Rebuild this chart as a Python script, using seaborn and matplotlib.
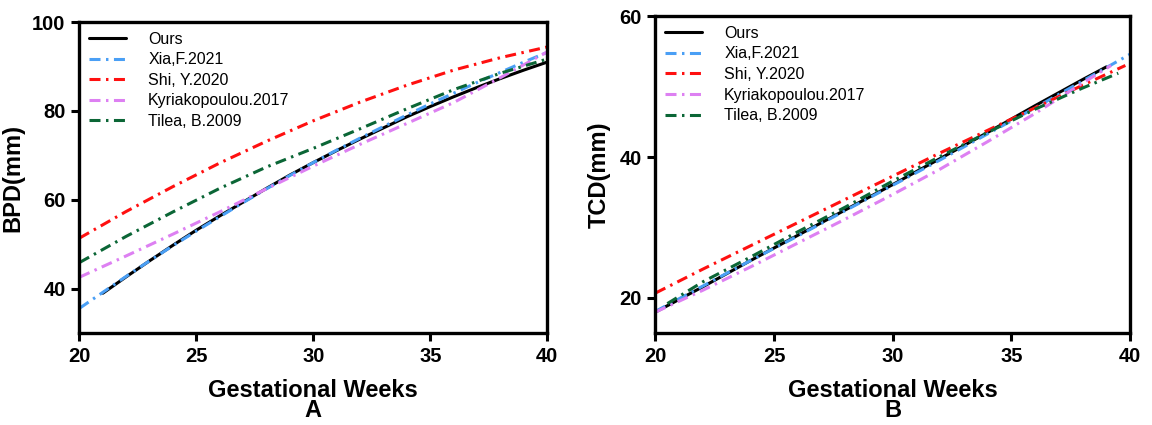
import matplotlib
matplotlib.use("Agg")
import matplotlib.pyplot as plt
import seaborn as sns

# BPD panel (A)
bpd_ours_wk = [21, 22, 23, 24, 25, 26, 27, 28, 29, 30, 31, 32, 33, 34, 35, 36, 37, 38, 39, 40]
bpd_ours = [39.0, 42.7, 46.3, 49.8, 53.2, 56.4, 59.5, 62.6, 65.6, 68.4, 71.1, 73.7, 76.2, 78.7, 81.0, 83.2, 85.3, 87.3, 89.2, 91.0]
bpd_xia_wk = [20, 21, 22, 23, 24, 25, 26, 27, 28, 29, 30, 31, 32, 33, 34, 35, 36, 37, 38, 39, 40]
bpd_xia = [35.6, 39.2, 42.8, 46.3, 49.7, 53.0, 56.2, 59.4, 62.5, 65.5, 68.4, 71.2, 73.9, 76.5, 79.1, 81.6, 84.0, 86.4, 88.7, 91.0, 93.2]
bpd_wk = [20, 22, 24, 26, 28, 30, 32, 34, 36, 38, 40]
bpd_shi = [51.4, 57.4, 63.0, 68.3, 73.2, 77.8, 82.0, 85.8, 89.2, 92.0, 94.4]
bpd_kyr = [42.6, 47.4, 52.3, 57.3, 62.5, 67.6, 72.5, 77.2, 81.9, 87.5, 93.3]
bpd_til = [45.9, 51.8, 57.3, 62.6, 67.4, 71.6, 76.0, 80.5, 84.8, 88.5, 91.7]

# TCD panel (B)
tcd_ours_wk = [20, 22, 24, 26, 28, 30, 32, 34, 36, 38, 39]
tcd_ours = [18.0, 21.6, 25.3, 28.9, 32.5, 36.1, 39.8, 43.5, 47.3, 51.0, 52.8]
tcd_xia_wk = [20, 22, 24, 26, 28, 30, 32, 34, 36, 38, 40]
tcd_xia = [18.1, 21.7, 25.3, 28.8, 32.4, 36.0, 39.6, 43.3, 47.0, 50.8, 54.6]
tcd_shi_wk = [20, 22, 24, 26, 28, 30, 32, 34, 36, 38, 39.8]
tcd_shi = [20.7, 24.1, 27.4, 30.7, 34.0, 37.3, 40.6, 43.8, 47.0, 50.2, 53.0]
tcd_kyr_wk = [20, 22, 24, 26, 28, 30, 32, 34, 36, 38, 39.2]
tcd_kyr = [18.0, 21.1, 24.4, 27.8, 31.2, 34.7, 38.3, 42.2, 46.2, 50.5, 53.0]
tcd_til_wk = [20.5, 22, 24, 26, 28, 30, 32, 34, 36, 38, 39.5]
tcd_til = [19.2, 22.3, 25.8, 29.4, 32.9, 36.6, 40.1, 43.5, 46.8, 49.8, 51.9]

names = ["Ours", "Xia,F.2021", "Shi, Y.2020", "Kyriakopoulou.2017", "Tilea, B.2009"]
colors = ["black", "#4a9ff5", "#ff1010", "#dd80f2", "#0b6636"]
dashdot = (0, (3.6, 1.8, 0.8, 1.8))
styles = ["-", dashdot, dashdot, dashdot, dashdot]

sns.set_style("white")
plt.rcParams["font.family"] = ["Liberation Sans", "DejaVu Sans"]
plt.rcParams["text.color"] = "black"
plt.rcParams["axes.labelcolor"] = "black"
plt.rcParams["xtick.color"] = "black"
plt.rcParams["ytick.color"] = "black"

fig = plt.figure(figsize=(11.52, 4.25), dpi=100)
ax1 = fig.add_axes([0.069, 0.216, 0.406, 0.732])
ax2 = fig.add_axes([0.569, 0.216, 0.412, 0.746])

panels = [
    (ax1, [(bpd_ours_wk, bpd_ours), (bpd_xia_wk, bpd_xia), (bpd_wk, bpd_shi),
           (bpd_wk, bpd_kyr), (bpd_wk, bpd_til)], "BPD(mm)", (30, 100), [40, 60, 80, 100], "A"),
    (ax2, [(tcd_ours_wk, tcd_ours), (tcd_xia_wk, tcd_xia), (tcd_shi_wk, tcd_shi),
           (tcd_kyr_wk, tcd_kyr), (tcd_til_wk, tcd_til)], "TCD(mm)", (15, 60), [20, 40, 60], "B"),
]

for ax, series, ylab, ylim, yticks, tag in panels:
    for (x, y), name, c, ls in zip(series, names, colors, styles):
        sns.lineplot(x=x, y=y, ax=ax, color=c, linestyle=ls, linewidth=2.2, label=name)
    ax.set_xlim(20, 40)
    ax.set_ylim(*ylim)
    ax.set_xticks([20, 25, 30, 35, 40])
    ax.set_yticks(yticks)
    ax.set_xlabel("Gestational Weeks", fontsize=17, fontweight="bold", labelpad=9)
    ax.set_ylabel(ylab, fontsize=17, fontweight="bold", labelpad=6)
    for lab in ax.get_xticklabels() + ax.get_yticklabels():
        lab.set_fontweight("bold")
    ax.tick_params(labelsize=14.5, width=2.2, length=6, direction="out", bottom=True, left=True, pad=4)
    for sp in ax.spines.values():
        sp.set_linewidth(2.4)
        sp.set_color("black")
    ax.legend(loc="upper left", frameon=False, fontsize=11.5, handlelength=2.3,
              handletextpad=1.4, labelspacing=0.35, borderaxespad=0.2)
    pos = ax.get_position()
    fig.text((pos.x0 + pos.x1) / 2, 0.006, tag, ha="center", va="bottom",
             fontsize=17, fontweight="bold")

fig.savefig("out.png", dpi=100)
